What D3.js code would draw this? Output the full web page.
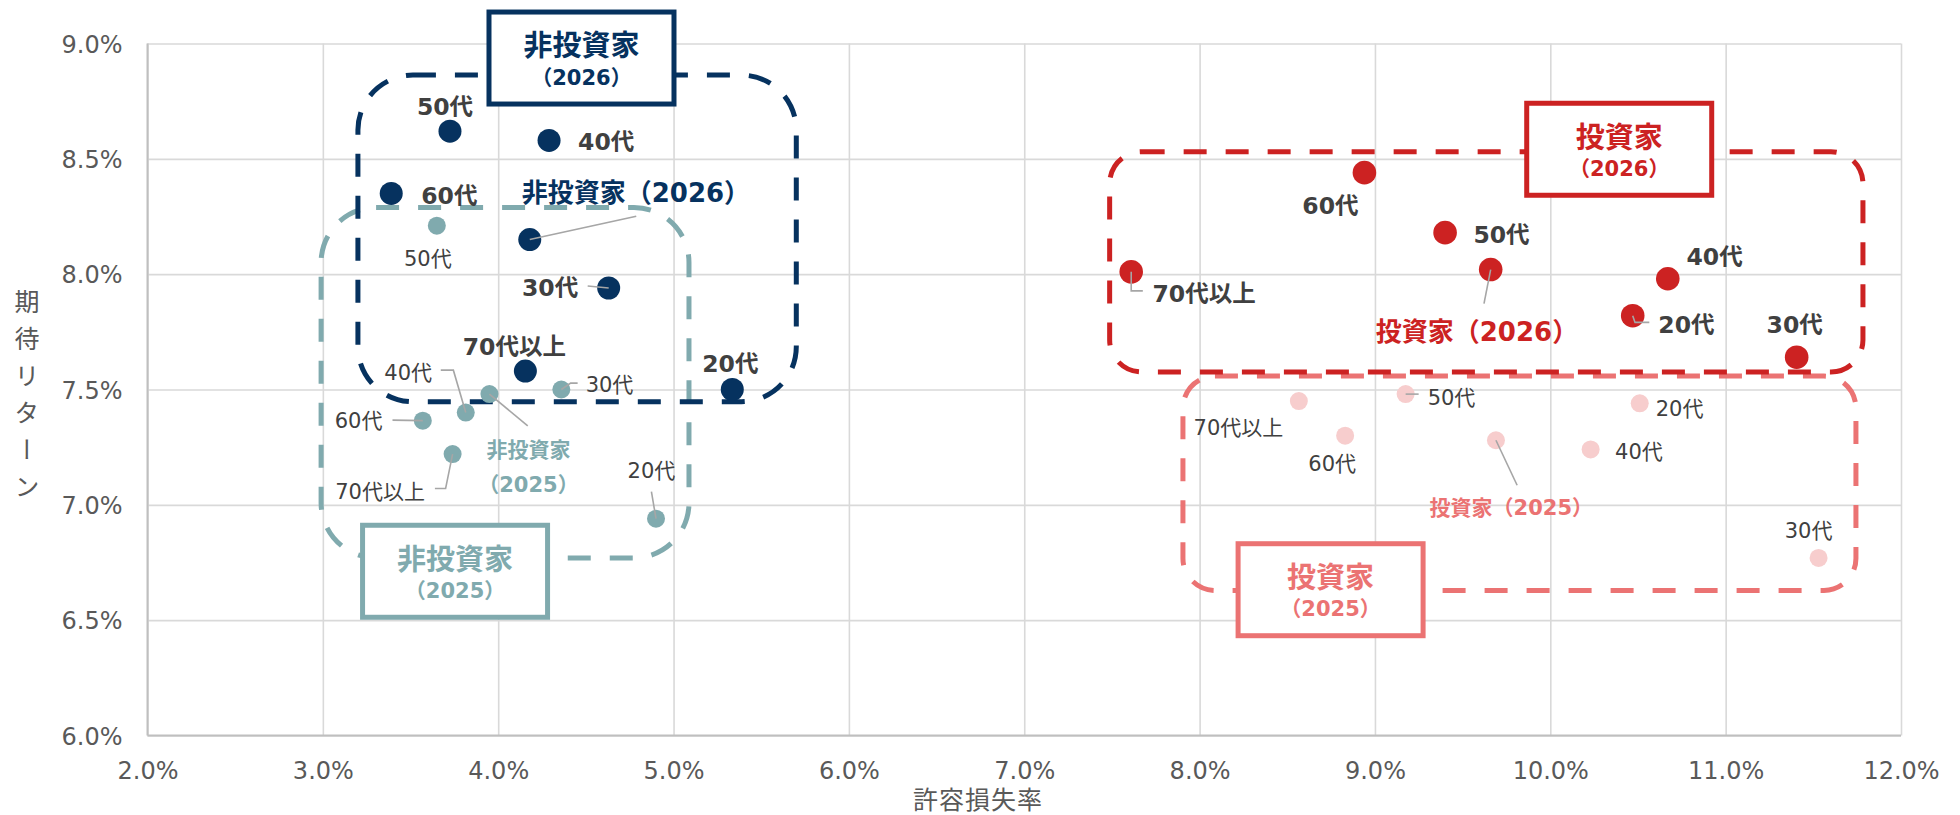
<!DOCTYPE html>
<html><head><meta charset="utf-8">
<script src="https://cdn.jsdelivr.net/npm/d3@7"></script>
<style>
html,body{margin:0;padding:0;background:#fff;}
svg{display:block;}
text{font-family:"DejaVu Sans","Noto Sans CJK JP",sans-serif;}
</style></head><body>
<svg id="chart" width="1960" height="815"></svg>
<script>
// ---------- DATA ----------
const ageGroups = ["20代", "30代", "40代", "50代", "60代", "70代以上"];
const nonInvestor2026Loss   = [5.335, 4.63, 4.29, 3.725, 3.39, 4.155];
const nonInvestor2026Return = [7.50, 7.94, 8.58, 8.62, 8.35, 7.58];
const nonInvestor2025Loss   = [4.90, 4.36, 3.815, 3.65, 3.57, 3.74];
const nonInvestor2025Return = [6.94, 7.50, 7.40, 8.21, 7.365, 7.22];
const investor2026Loss      = [10.47, 11.405, 10.67, 9.40, 8.94, 7.61];
const investor2026Return    = [7.82, 7.64, 7.98, 8.18, 8.44, 8.01];
const investor2025Loss      = [10.51, 11.53, 10.23, 9.175, 8.83, 8.566];
const investor2025Return    = [7.44, 6.77, 7.24, 7.48, 7.30, 7.45];
const averageNames  = ["非投資家（2026）", "非投資家（2025）", "投資家（2026）", "投資家（2025）"];
const averageLoss   = [4.18, 3.95, 9.66, 9.69];
const averageReturn = [8.15, 7.48, 8.02, 7.28];
const groupTitles = ["非投資家", "非投資家", "投資家", "投資家"];
const groupYears  = ["（2026）", "（2025）", "（2026）", "（2025）"];
// group region extents in data units: [xMin, xMax, yMin, yMax]
const groupRegions = [[3.20, 5.70, 7.447, 8.863], [2.99, 5.088, 6.770, 8.289], [7.487, 11.783, 7.576, 8.531], [7.905, 11.743, 6.629, 7.558]];
const groupBoxCenters = [[4.475, 8.937], [3.754, 6.712], [10.393, 8.5415], [8.747, 6.632]];
const xTicks = [2, 3, 4, 5, 6, 7, 8, 9, 10, 11, 12];
const yTicks = [6.0, 6.5, 7.0, 7.5, 8.0, 8.5, 9.0];
const xTitle = "許容損失率";
const yTitle = "期待リターン";

// ---------- STYLE / LAYOUT ----------
const NAVY = "#06325F", TEAL = "#80AAAE", RED = "#CC2222", SALMON = "#EB7373", PINK = "#F7CDCD";
const LABEL = "#404040", LEADER = "#A6A6A6";
const series = [
  {loss: nonInvestor2026Loss, ret: nonInvestor2026Return, color: NAVY, labelColor: NAVY, r: 11.5, weight: "bold", size: 23.5, avgSize: 26, rx: 55},
  {loss: nonInvestor2025Loss, ret: nonInvestor2025Return, color: TEAL, labelColor: TEAL, r: 9, weight: "normal", size: 21, avgSize: 21, rx: 55},
  {loss: investor2026Loss, ret: investor2026Return, color: RED, labelColor: RED, r: 11.8, weight: "bold", size: 23.5, avgSize: 26, rx: 32},
  {loss: investor2025Loss, ret: investor2025Return, color: PINK, labelColor: SALMON, r: 9, weight: "normal", size: 21, avgSize: 21, rx: 32}
];
const groupLineColors = [NAVY, TEAL, RED, SALMON];
// label offsets (px) for each series in ageGroups order, then the average
const labelLayout = [
  [ {a:"middle",dx:-2,dy:-26}, {a:"end",dx:-30.5,dy:0,l:[[0,0],[-21,-2]]}, {a:"start",dx:29,dy:1},
    {a:"middle",dx:-5,dy:-25}, {a:"start",dx:30,dy:2}, {a:"middle",dx:-11,dy:-25},
    {a:"start",dx:-8,dy:-47,l:[[0,0],[106.5,-23.3]]} ],
  [ {a:"middle",dx:-4.6,dy:-48.7,l:[[0,0],[-4.6,-27]]}, {a:"start",dx:24.3,dy:-4.7,l:[[0,0],[9.3,-6.4],[16.3,-6.4]]},
    {a:"end",dx:-33.7,dy:-39.7,l:[[0,0],[-12.4,-42.4],[-25,-42.4]]}, {a:"middle",dx:-9,dy:33},
    {a:"end",dx:-40.3,dy:0,l:[[0,0],[-30.3,-0.5]]}, {a:"end",dx:-27.7,dy:37,l:[[0,0],[-7,34.4],[-17.7,34.4]]},
    {a:"middle",dx:39,dy:55.7,dy2:90,l:[[0,0],[38.3,31.7]]} ],
  [ {a:"start",dx:25.6,dy:9,l:[[0,0],[2.3,6.7],[16.6,6.7]]}, {a:"middle",dx:-2,dy:-32.7}, {a:"start",dx:18.7,dy:-22.6},
    {a:"start",dx:28.3,dy:2.2}, {a:"middle",dx:-34,dy:32.7}, {a:"start",dx:21.3,dy:21.5,l:[[0,0],[0,19],[11.6,19]]},
    {a:"middle",dx:-13.7,dy:62.4,l:[[0,0],[-6.7,34]]} ],
  [ {a:"start",dx:16,dy:5}, {a:"middle",dx:-10,dy:-27.3}, {a:"start",dx:24.4,dy:1.7},
    {a:"start",dx:22,dy:3,l:[[0,0],[13,0]]}, {a:"middle",dx:-13,dy:28.3}, {a:"end",dx:-15.5,dy:26.3},
    {a:"middle",dx:15.4,dy:67.5,l:[[0,0],[21.2,45]]} ]
];

// ---------- CHART ----------
const svg = d3.select("#chart");
const X0 = 147.5, X1 = 1901, Y0 = 735.5, Y1 = 43.5;
const x = d3.scaleLinear().domain([2, 12]).range([X0, X1]);
const y = d3.scaleLinear().domain([6, 9]).range([Y0, Y1]);

// gridlines + tick labels
const yAxis = svg.append("g").attr("transform", `translate(${X0},0)`)
  .call(d3.axisLeft(y).tickValues(yTicks).tickSize(-(X1 - X0)).tickPadding(25).tickFormat(d => d.toFixed(1) + "%"));
const xAxis = svg.append("g").attr("transform", `translate(0,${Y0})`)
  .call(d3.axisBottom(x).tickValues(xTicks).tickSize(-(Y0 - Y1)).tickPadding(26.5).tickFormat(d => d.toFixed(1) + "%"));
[yAxis, xAxis].forEach(g => {
  g.select(".domain").remove();
  g.selectAll(".tick line").attr("stroke", "#D9D9D9").attr("stroke-width", 1.6);
  g.selectAll(".tick text").attr("fill", "#595959").style("font-size", "24px").style("font-family", '"DejaVu Sans", sans-serif');
});
yAxis.selectAll(".tick text").attr("dy", "0.36em");
// axis lines
svg.append("line").attr("x1", X0).attr("x2", X0).attr("y1", Y1).attr("y2", Y0).attr("stroke", "#BFBFBF").attr("stroke-width", 2);
svg.append("line").attr("x1", X0).attr("x2", X1).attr("y1", Y0).attr("y2", Y0).attr("stroke", "#BFBFBF").attr("stroke-width", 2);

// axis titles
svg.append("text").attr("x", 978).attr("y", 800).attr("dy", "0.36em").attr("text-anchor", "middle")
  .attr("fill", "#595959").style("font-size", "25px").style("font-family", '"DejaVu Sans", "Noto Sans CJK JP", sans-serif').style("letter-spacing", "1px").text(xTitle);
svg.append("text").attr("x", 27).attr("y", 399.5).attr("text-anchor", "middle")
  .attr("fill", "#595959").style("font-size", "25px").style("font-family", '"Noto Sans CJK JP", sans-serif')
  .style("writing-mode", "vertical-rl").style("letter-spacing", "12px").text(yTitle);

// dashed group regions (draw order: teal, navy, pink, red)
[1, 0, 3, 2].forEach(i => {
  const [a, b, c, d] = groupRegions[i];
  svg.append("rect").attr("x", x(a)).attr("y", y(d)).attr("width", x(b) - x(a)).attr("height", y(c) - y(d))
    .attr("rx", series[i].rx).attr("fill", "none").attr("stroke", groupLineColors[i])
    .attr("stroke-width", 5).attr("stroke-dasharray", "23 19");
});

// points, leaders, labels
series.forEach((s, si) => {
  const pts = ageGroups.map((g, k) => ({name: g, lx: s.loss[k], ly: s.ret[k], lay: labelLayout[si][k], avg: false}));
  pts.push({name: averageNames[si], lx: averageLoss[si], ly: averageReturn[si], lay: labelLayout[si][6], avg: true});
  const g = svg.append("g");
  g.selectAll("circle").data(pts).join("circle")
    .attr("cx", d => x(d.lx)).attr("cy", d => y(d.ly)).attr("r", s.r).attr("fill", s.color);
  pts.forEach(p => {
    if (p.lay.l) {
      g.append("polyline").attr("points", p.lay.l.map(q => [x(p.lx) + q[0], y(p.ly) + q[1]].join(",")).join(" "))
        .attr("fill", "none").attr("stroke", LEADER).attr("stroke-width", 1.6);
    }
  });
  pts.forEach(p => {
    const t = g.append("text").attr("text-anchor", p.lay.a)
      .attr("fill", p.avg ? s.labelColor : LABEL)
      .style("font-weight", p.avg ? "bold" : s.weight)
      .style("font-size", (p.avg ? s.avgSize : s.size) + "px");
    if (p.lay.dy2 !== undefined) {
      const parts = p.name.split("（");
      t.append("tspan").attr("x", x(p.lx) + p.lay.dx).attr("y", y(p.ly) + p.lay.dy).attr("dy", "0.36em").text(parts[0]);
      t.append("tspan").attr("x", x(p.lx) + p.lay.dx).attr("y", y(p.ly) + p.lay.dy2).attr("dy", "0.36em").text("（" + parts[1]);
    } else {
      t.attr("x", x(p.lx) + p.lay.dx).attr("y", y(p.ly) + p.lay.dy).attr("dy", "0.36em").text(p.name);
    }
  });
});

// group title boxes
groupBoxCenters.forEach((c, i) => {
  const cx = x(c[0]), cy = y(c[1]), w = 185, h = 92;
  const col = groupLineColors[i];
  svg.append("rect").attr("x", cx - w / 2).attr("y", cy - h / 2).attr("width", w).attr("height", h)
    .attr("fill", "#fff").attr("stroke", col).attr("stroke-width", 5);
  svg.append("text").attr("x", cx).attr("y", cy - 12).attr("dy", "0.36em").attr("text-anchor", "middle")
    .attr("fill", col).style("font-weight", "bold").style("font-size", "29px").text(groupTitles[i]);
  svg.append("text").attr("x", cx).attr("y", cy + 19).attr("dy", "0.36em").attr("text-anchor", "middle")
    .attr("fill", col).style("font-weight", "bold").style("font-size", "21px").text(groupYears[i]);
});
</script>
</body></html>
